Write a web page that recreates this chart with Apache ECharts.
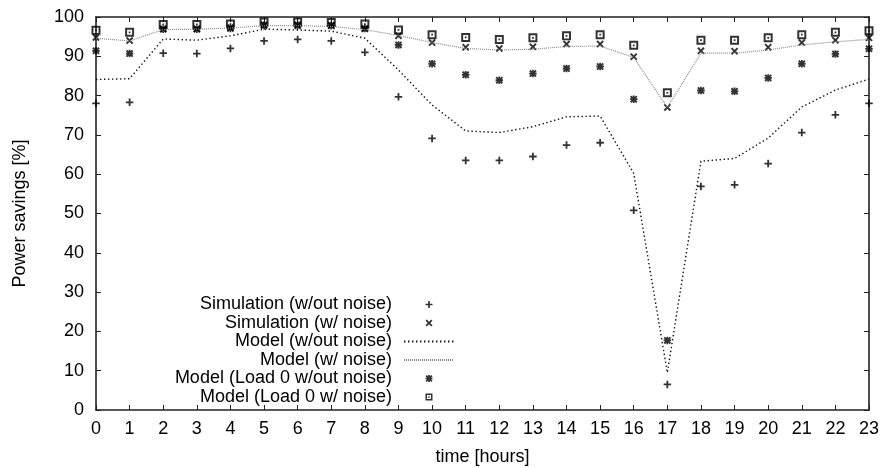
<!DOCTYPE html>
<html>
<head>
<meta charset="utf-8">
<script src="https://cdn.jsdelivr.net/npm/echarts@6/dist/echarts.min.js"></script>
<style>
  html, body { margin: 0; padding: 0; background: #fff; }
  #chart { width: 882px; height: 468px; }
</style>
</head>
<body>
<div id="chart"></div>
<script>
// Hour of day (x axis ticks)
const hours = [0, 1, 2, 3, 4, 5, 6, 7, 8, 9, 10, 11, 12, 13, 14, 15, 16, 17, 18, 19, 20, 21, 22, 23];

// Power savings [%] per hour
const simNoNoise   = [78.0, 78.3, 90.8, 90.7, 92.0, 93.9, 94.3, 93.9, 91.0, 79.7, 69.1, 63.5, 63.5, 64.5, 67.4, 68.0, 50.8, 6.5, 56.9, 57.3, 62.7, 70.6, 75.1, 78.0];
const simNoise     = [94.8, 94.0, 97.0, 97.0, 97.3, 98.0, 98.0, 97.9, 97.0, 95.2, 93.5, 92.3, 92.0, 92.4, 93.1, 93.1, 89.9, 77.0, 91.4, 91.3, 92.3, 93.5, 94.1, 94.7];
const modelNoNoise = [84.1, 84.3, 94.4, 94.1, 95.2, 96.9, 96.7, 96.4, 94.6, 86.5, 77.6, 71.0, 70.6, 72.1, 74.6, 74.8, 60.2, 9.5, 63.3, 64.0, 69.2, 77.1, 81.4, 84.2];
const modelNoise   = [94.6, 93.9, 96.8, 96.9, 97.2, 97.8, 97.8, 97.6, 96.8, 95.3, 93.5, 92.0, 91.6, 91.8, 92.5, 92.6, 89.7, 77.0, 90.8, 90.8, 91.6, 92.9, 93.7, 94.3];
const load0NoNoise = [91.4, 90.7, 96.9, 96.9, 97.1, 97.8, 97.8, 97.8, 97.1, 92.9, 88.1, 85.3, 83.9, 85.6, 86.9, 87.4, 79.1, 17.7, 81.3, 81.1, 84.5, 88.1, 90.6, 91.9];
const load0Noise   = [96.6, 96.1, 98.1, 98.1, 98.2, 98.7, 98.7, 98.6, 98.2, 96.7, 95.5, 94.8, 94.3, 94.7, 95.2, 95.5, 92.8, 80.7, 94.1, 94.1, 94.7, 95.5, 96.1, 96.5];

const yTicks = [0, 10, 20, 30, 40, 50, 60, 70, 80, 90, 100];

const seriesNames = [
  'Simulation (w/out noise)',
  'Simulation (w/ noise)',
  'Model (w/out noise)',
  'Model (w/ noise)',
  'Model (Load 0 w/out noise)',
  'Model (Load 0 w/ noise)'
];

// gnuplot-style point shapes
const SYM_PLUS = 'path://M3.8,0H6.2V3.8H10V6.2H6.2V10H3.8V6.2H0V3.8H3.8Z';
const SYM_CROSS = 'path://M0,1.8L1.8,0L10,8.2L8.2,10Z M8.2,0L10,1.8L1.8,10L0,8.2Z';
const SYM_STAR = 'path://M0,1.8L1.8,0L10,8.2L8.2,10Z M8.2,0L10,1.8L1.8,10L0,8.2Z M3.8,0H6.2V10H3.8Z M0,3.8H10V6.2H0Z';
const SYM_BOXDOT = 'path://M0,0H10V10H0Z M2.2,2.2V7.8H7.8V2.2Z M4,4H6V6H4Z';

const FONT = 'Liberation Sans, Arial, Helvetica, sans-serif';
const FS = 18;
const pairs = arr => hours.map((h, i) => [h, arr[i]]);

function scatter(name, data, symbol, size) {
  return {
    name, type: 'scatter', data: pairs(data),
    symbol, symbolSize: size,
    itemStyle: { color: '#000' },
    silent: true
  };
}
function line(name, data, color, width, dash) {
  return {
    name, type: 'line', data: pairs(data),
    symbol: 'none',
    lineStyle: { color, width, type: dash },
    silent: true
  };
}

const hiddenDot = { opacity: 0 };
const frameLine = { color: '#222', width: 1.6 };
const tick = { inside: true, length: 5, lineStyle: { color: '#222', width: 1 } };

const chart = echarts.init(document.getElementById('chart'), null, { renderer: 'canvas' });
chart.setOption({
  animation: false,
  backgroundColor: '#fff',
  textStyle: { fontFamily: FONT, color: '#000' },
  grid: { left: 96, right: 13, top: 17, bottom: 58, containLabel: false, outerBoundsMode: 'none' },
  legend: {
    orient: 'vertical',
    align: 'right',
    right: 427,
    top: 295.5,
    padding: 0,
    itemGap: 0.5,
    itemWidth: 50,
    itemHeight: 7,
    selectedMode: false,
    textStyle: { fontFamily: FONT, fontSize: FS, color: '#000', padding: [0, 7, 0, 0] },
    data: [
      { name: seriesNames[0] },
      { name: seriesNames[1] },
      { name: seriesNames[2], itemStyle: hiddenDot },
      { name: seriesNames[3], itemStyle: hiddenDot },
      { name: seriesNames[4] },
      { name: seriesNames[5] }
    ]
  },
  xAxis: [
    {
      type: 'value', min: hours[0], max: hours[hours.length - 1], interval: 1,
      name: 'time [hours]', nameLocation: 'middle', nameGap: 38,
      nameTextStyle: { fontSize: FS, color: '#000', fontFamily: FONT },
      axisLine: { lineStyle: frameLine },
      axisTick: tick,
      axisLabel: { fontSize: FS, color: '#000', margin: 10, fontFamily: FONT },
      splitLine: { show: false }
    },
    {
      type: 'value', position: 'top', min: hours[0], max: hours[hours.length - 1], interval: 1,
      axisLine: { show: true, onZero: false, lineStyle: frameLine },
      axisTick: tick,
      axisLabel: { show: false },
      splitLine: { show: false }
    }
  ],
  yAxis: [
    {
      type: 'value', min: yTicks[0], max: yTicks[yTicks.length - 1], interval: 10,
      name: 'Power savings [%]', nameLocation: 'middle', nameGap: 67, nameRotate: 90,
      nameTextStyle: { fontSize: FS, color: '#000', fontFamily: FONT },
      axisLine: { show: true, lineStyle: frameLine },
      axisTick: Object.assign({ show: true }, tick),
      axisLabel: { fontSize: FS, color: '#000', margin: 12, fontFamily: FONT },
      splitLine: { show: false }
    },
    {
      type: 'value', position: 'right', min: yTicks[0], max: yTicks[yTicks.length - 1], interval: 10,
      axisLine: { show: true, onZero: false, lineStyle: frameLine },
      axisTick: Object.assign({ show: true }, tick),
      axisLabel: { show: false },
      splitLine: { show: false }
    }
  ],
  series: [
    scatter(seriesNames[0], simNoNoise, SYM_PLUS, 7.5),
    scatter(seriesNames[1], simNoise, SYM_CROSS, 7.5),
    line(seriesNames[2], modelNoNoise, '#111', 1.4, [1.4, 2.6]),
    line(seriesNames[3], modelNoise, '#8a8a8a', 1.2, [1, 1]),
    scatter(seriesNames[4], load0NoNoise, SYM_STAR, 7.5),
    scatter(seriesNames[5], load0Noise, SYM_BOXDOT, 9)
  ]
});
</script>
</body>
</html>
